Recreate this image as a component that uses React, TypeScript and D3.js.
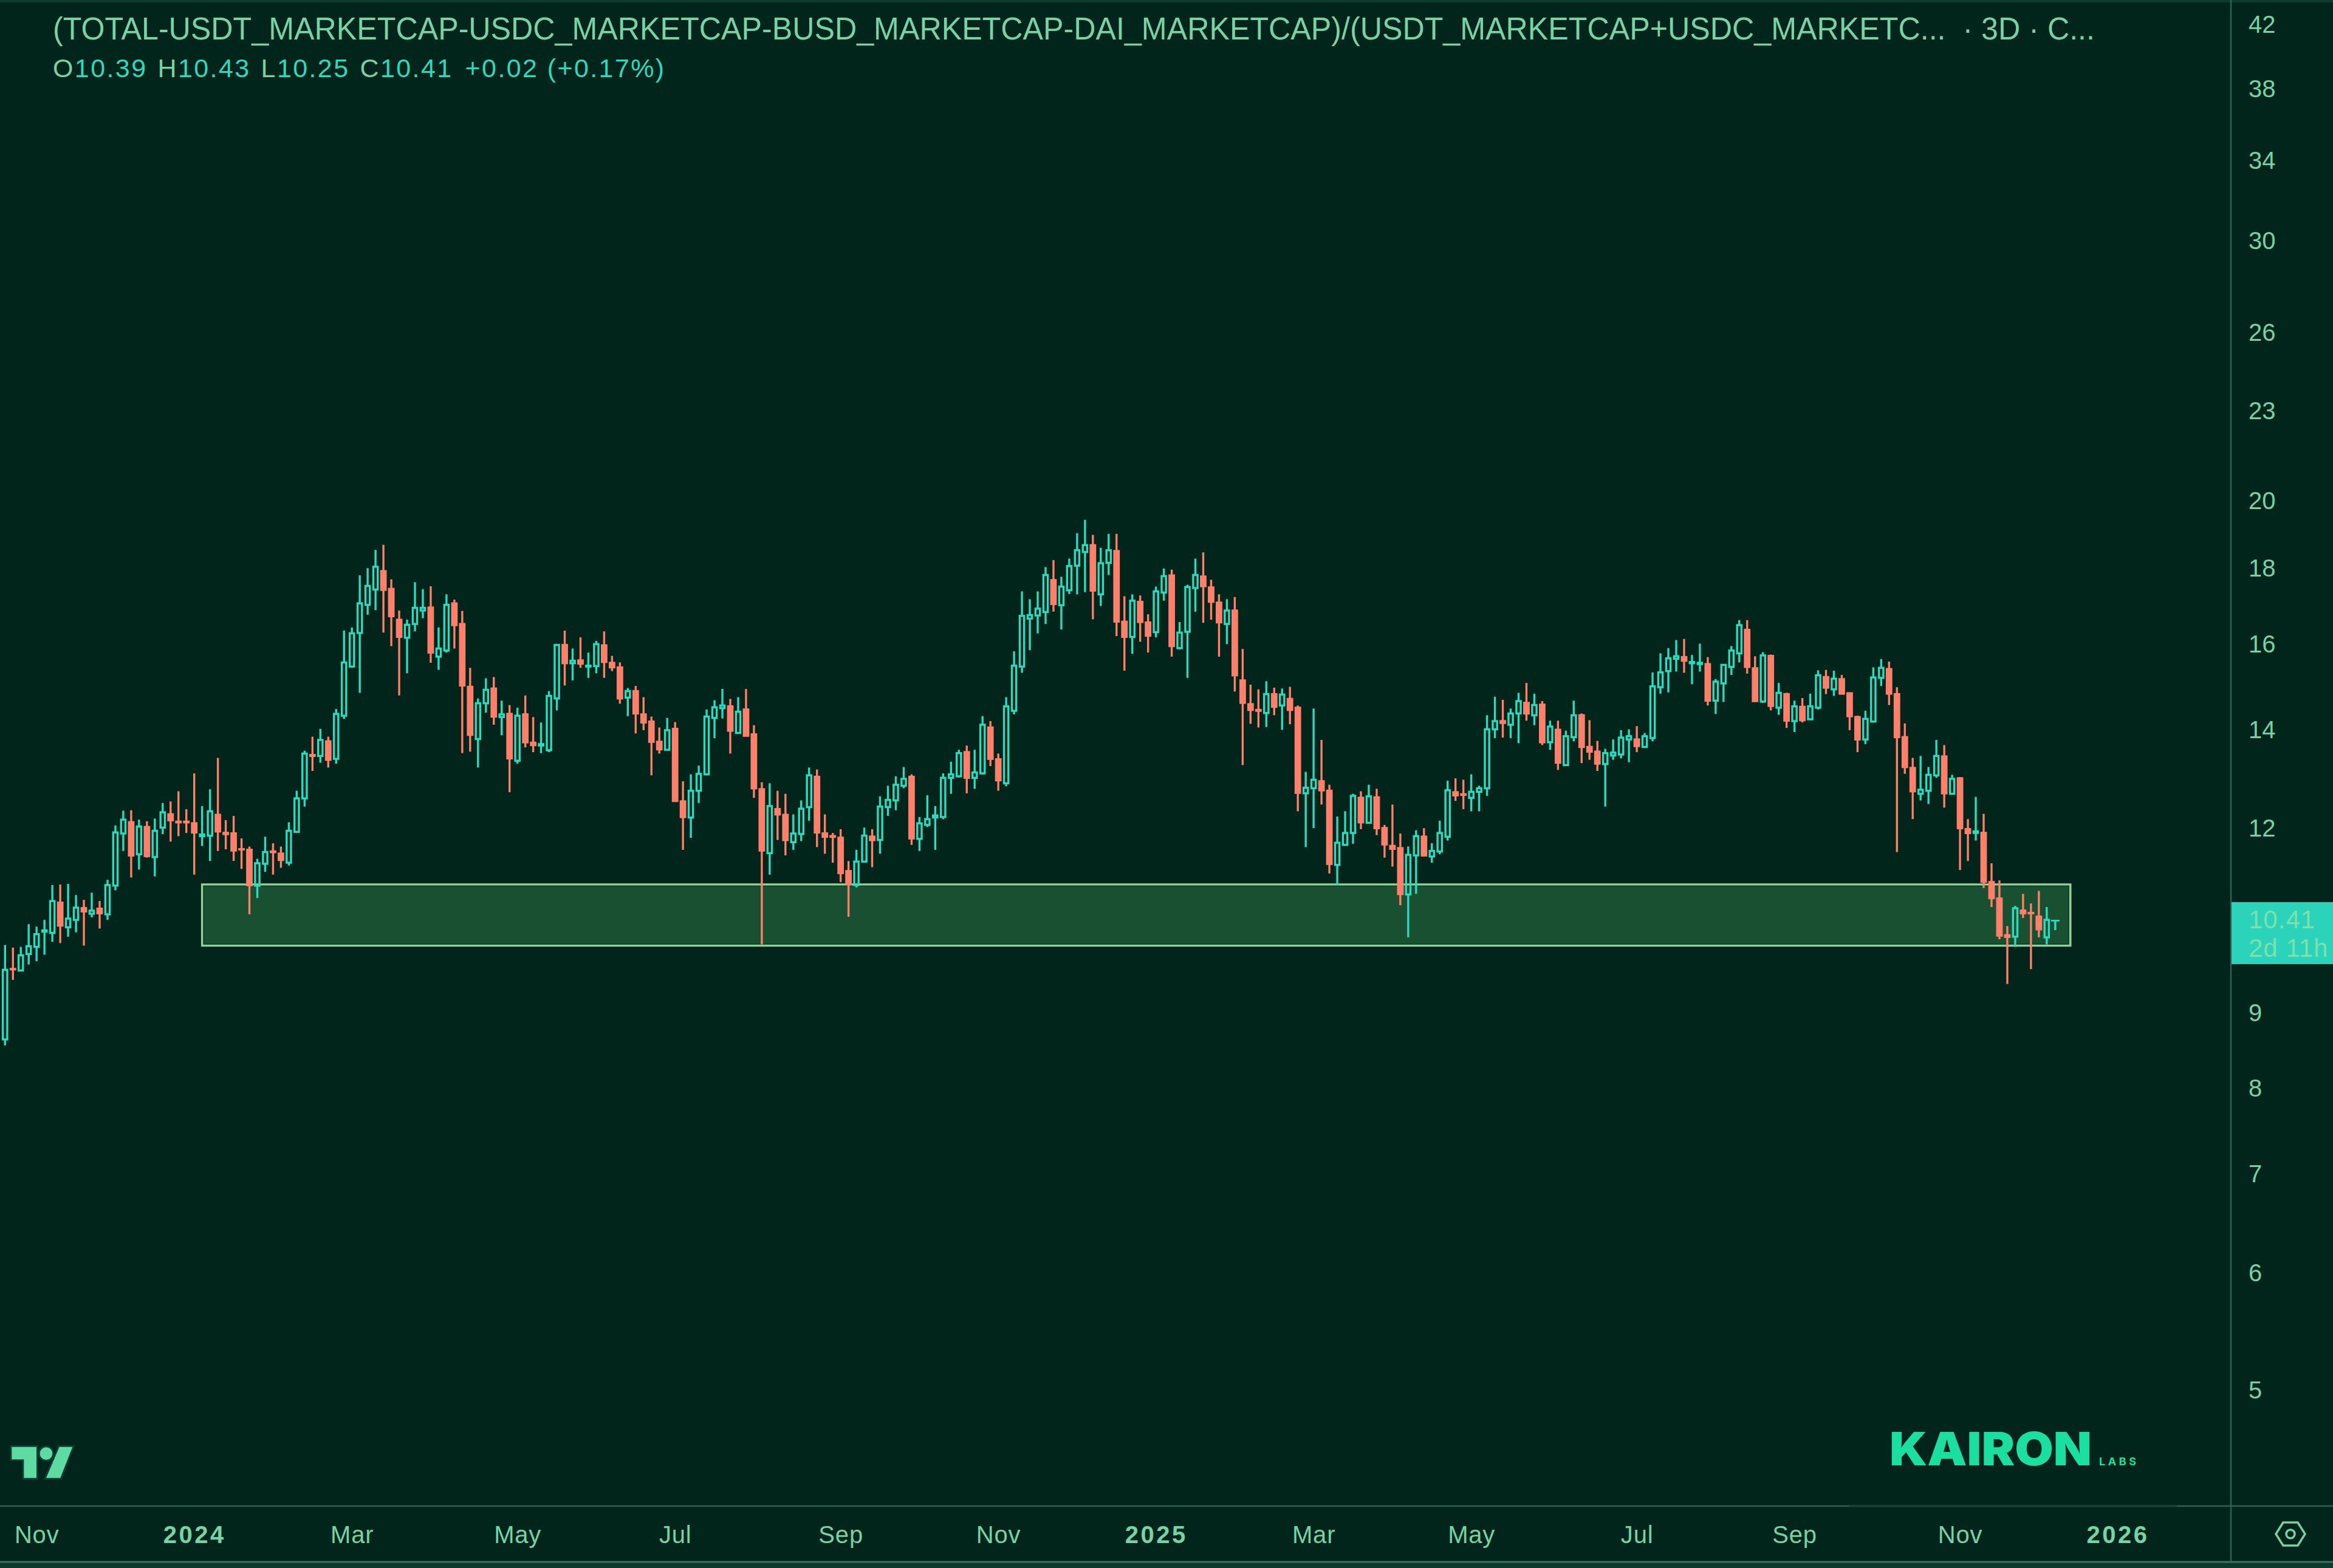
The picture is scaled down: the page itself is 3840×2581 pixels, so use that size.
import { useRef, useEffect } from 'react'
import * as d3 from 'd3'

const WIDTH = 3840
const HEIGHT = 2581
const AXIS_X = 3672
const AXIS_Y = 2479
const FOOTER_Y = 2571

const BG = '#01241b'
const BAND = '#0e3a2e'
const LINE = '#2f6152'
const TEXT = '#75d3a7'
const UP = '#2bdabf'
const DOWN = '#ff7f6b'
const FONT = '"Liberation Sans", Arial, sans-serif'

const TITLE = '(TOTAL-USDT_MARKETCAP-USDC_MARKETCAP-BUSD_MARKETCAP-DAI_MARKETCAP)/(USDT_MARKETCAP+USDC_MARKETC...  · 3D · C...'
const LEGEND = [['O', '10.39'], ['H', '10.43'], ['L', '10.25'], ['C', '10.41']]
const LEGEND_CHANGE = '+0.02 (+0.17%)'

const PRICE_TICKS = [42, 38, 34, 30, 26, 23, 20, 18, 16, 14, 12, 9, 8, 7, 6, 5]
const TIME_TICKS = ['2023-11-01', '2024-01-01', '2024-03-01', '2024-05-01', '2024-07-01', '2024-09-01', '2024-11-01', '2025-01-01', '2025-03-01', '2025-05-01', '2025-07-01', '2025-09-01', '2025-11-01', '2026-01-01']
const TIME_LABELS = ['Nov', '2024', 'Mar', 'May', 'Jul', 'Sep', 'Nov', '2025', 'Mar', 'May', 'Jul', 'Sep', 'Nov', '2026']

const FIRST_BAR = '2023-10-21'
const LAST_BAR = '2025-12-06'
const ZONE = [10, 11]
const ZONE_DATES = ['2024-01-04', '2025-12-15']

const opens = [
  8.64, 9.65, 9.62, 9.87, 9.98, 10.22, 10.2, 10.7, 10.29, 10.41,
  10.61, 10.51, 10.6, 10.5, 10.98, 11.91, 12.13, 11.53, 12.04, 11.48,
  12.02, 12.28, 12.14, 12.14, 12.11, 11.86, 11.87, 12.27, 11.93, 11.92,
  11.63, 11.62, 10.98, 11.36, 11.59, 11.55, 11.38, 11.94, 12.58, 13.47,
  13.44, 13.76, 13.38, 14.31, 15.45, 16.28, 17.01, 17.42, 17.94, 17.45,
  16.63, 16.16, 16.51, 16.86, 16.95, 15.69, 15.84, 17.06, 16.52, 14.98,
  13.8, 14.59, 14.94, 14.28, 14.36, 13.34, 14.35, 13.73, 13.66, 13.56,
  14.7, 15.99, 15.53, 15.61, 15.45, 15.46, 15.98, 15.55, 15.44, 14.72,
  14.88, 14.35, 14.19, 13.75, 13.57, 14.03, 12.53, 12.21, 12.73, 13.06,
  14.26, 14.48, 14.53, 13.93, 14.46, 13.91, 12.77, 11.55, 12.38, 12.27,
  11.75, 11.9, 12.41, 13.02, 11.92, 11.87, 11.84, 11.24, 10.99, 11.4,
  11.86, 11.79, 12.41, 12.54, 12.83, 13.02, 11.81, 12.07, 12.21, 12.22,
  12.99, 13.02, 13.53, 12.99, 13.08, 14.06, 13.38, 12.88, 14.42, 15.45,
  16.65, 16.73, 16.82, 17.69, 17.0, 17.4, 18.08, 18.47, 18.68, 17.29,
  18.16, 18.51, 16.58, 16.18, 17.1, 16.56, 16.3, 17.34, 17.82, 15.9,
  16.31, 17.46, 17.79, 17.49, 17.08, 16.51, 16.87, 15.13, 14.58, 14.45,
  14.37, 14.81, 14.54, 14.7, 14.5, 12.68, 12.78, 12.93, 12.74, 11.34,
  11.7, 11.92, 12.6, 12.11, 12.61, 12.02, 11.69, 11.65, 10.83, 11.51,
  11.86, 11.49, 11.58, 11.85, 12.71, 12.67, 12.59, 12.71, 12.78, 14.01,
  14.2, 14.11, 14.36, 14.61, 14.32, 14.57, 13.73, 14.01, 13.25, 13.84,
  14.33, 13.64, 13.54, 13.27, 13.45, 13.47, 13.79, 13.8, 13.63, 13.82,
  14.96, 15.34, 15.64, 15.69, 15.53, 15.51, 15.52, 14.65, 15.05, 15.44,
  15.77, 16.37, 15.42, 14.63, 15.72, 14.49, 14.81, 14.19, 14.52, 14.23,
  14.49, 15.21, 14.91, 15.16, 14.83, 14.29, 13.79, 14.18, 15.18, 15.4,
  14.81, 13.85, 13.2, 12.67, 12.73, 13.04, 13.44, 12.67, 12.99, 12.0,
  11.92, 11.93, 11.05, 10.77, 10.17, 10.14, 10.57, 10.53, 10.47, 10.13,
]

const closes = [
  9.63, 9.63, 9.85, 9.99, 10.18, 10.24, 10.72, 10.31, 10.43, 10.61,
  10.54, 10.56, 10.51, 10.99, 11.93, 12.17, 11.5, 12.04, 11.49, 11.96,
  12.31, 12.15, 12.11, 12.11, 11.92, 11.89, 12.33, 11.94, 11.89, 11.59,
  11.61, 10.98, 11.37, 11.57, 11.56, 11.42, 11.96, 12.58, 13.49, 13.43,
  13.78, 13.35, 14.35, 15.55, 16.27, 17.05, 17.52, 18.05, 17.4, 16.7,
  16.17, 16.49, 16.93, 16.93, 15.78, 15.89, 17.01, 16.47, 14.99, 13.88,
  14.59, 14.9, 14.28, 14.34, 13.38, 14.31, 13.72, 13.66, 13.69, 14.76,
  15.98, 15.52, 15.59, 15.51, 15.47, 16.0, 15.55, 15.42, 14.69, 14.87,
  14.35, 14.15, 13.73, 13.57, 13.99, 12.52, 12.21, 12.73, 13.07, 14.29,
  14.5, 14.54, 13.97, 14.4, 13.86, 12.77, 11.59, 12.43, 12.26, 11.78,
  11.91, 12.38, 13.04, 11.92, 11.84, 11.84, 11.19, 11.0, 11.4, 11.87,
  11.78, 12.42, 12.55, 12.85, 12.97, 11.81, 12.1, 12.18, 12.25, 12.99,
  13.06, 13.5, 12.98, 13.1, 14.11, 13.37, 12.93, 14.52, 15.47, 16.72,
  16.74, 16.91, 17.82, 17.02, 17.5, 18.07, 18.52, 18.67, 17.38, 18.15,
  18.52, 16.56, 16.17, 17.12, 16.55, 16.2, 17.37, 17.79, 15.94, 16.29,
  17.49, 17.82, 17.5, 17.08, 16.54, 16.86, 15.23, 14.59, 14.43, 14.41,
  14.8, 14.5, 14.79, 14.43, 12.68, 12.79, 12.95, 12.73, 11.35, 11.74,
  11.92, 12.63, 12.11, 12.62, 12.0, 11.7, 11.62, 10.83, 11.52, 11.86,
  11.5, 11.59, 11.92, 12.74, 12.63, 12.64, 12.71, 12.78, 14.01, 14.19,
  14.14, 14.36, 14.64, 14.35, 14.55, 13.72, 14.07, 13.29, 13.86, 14.32,
  13.62, 13.52, 13.27, 13.5, 13.51, 13.83, 13.86, 13.64, 13.86, 14.98,
  15.31, 15.65, 15.7, 15.58, 15.56, 15.54, 14.64, 15.09, 15.49, 15.84,
  16.48, 15.43, 14.63, 15.72, 14.52, 14.83, 14.19, 14.52, 14.2, 14.52,
  15.24, 14.94, 15.16, 14.8, 14.29, 13.78, 14.24, 15.19, 15.42, 14.8,
  13.83, 13.2, 12.71, 12.75, 13.05, 13.44, 12.67, 12.97, 12.0, 11.91,
  11.95, 11.04, 10.76, 10.15, 10.13, 10.6, 10.51, 10.51, 10.25, 10.41,
]

const highs = [
  10.01, 9.97, 9.98, 10.34, 10.3, 10.41, 10.99, 11.0, 11.01, 10.82,
  10.74, 10.86, 10.72, 11.08, 12.06, 12.34, 12.35, 12.17, 12.14, 12.19,
  12.49, 12.52, 12.72, 12.37, 13.08, 12.43, 12.76, 13.4, 12.16, 12.24,
  11.82, 11.67, 11.45, 11.85, 11.73, 11.67, 12.12, 12.73, 13.55, 13.85,
  14.02, 13.85, 14.46, 16.34, 16.42, 17.81, 18.01, 18.53, 18.68, 17.7,
  16.86, 16.62, 17.62, 17.43, 17.51, 16.42, 17.29, 17.15, 16.85, 15.42,
  14.7, 15.17, 15.2, 14.65, 14.55, 14.49, 14.77, 14.28, 14.16, 14.87,
  16.0, 16.34, 15.89, 16.17, 15.79, 16.08, 16.32, 15.71, 15.55, 14.94,
  14.99, 14.73, 14.29, 14.05, 14.26, 14.17, 12.92, 13.06, 13.24, 14.45,
  14.66, 14.92, 14.69, 14.73, 14.92, 14.1, 12.9, 12.88, 12.73, 12.67,
  12.27, 12.54, 13.2, 13.16, 12.27, 11.92, 11.99, 11.41, 11.61, 12.02,
  11.99, 12.62, 12.83, 13.02, 13.21, 13.06, 12.22, 12.64, 12.43, 13.08,
  13.32, 13.57, 13.66, 13.57, 14.3, 14.19, 13.49, 14.73, 15.82, 17.37,
  17.16, 17.37, 18.04, 18.24, 17.77, 18.28, 19.02, 19.42, 18.97, 18.59,
  19.0, 19.0, 17.24, 17.29, 17.26, 16.76, 17.5, 18.0, 17.97, 16.56,
  17.55, 18.28, 18.46, 17.69, 17.29, 17.16, 17.22, 15.88, 15.02, 14.91,
  15.1, 14.95, 14.93, 14.97, 14.54, 13.11, 14.47, 13.78, 12.85, 12.23,
  12.33, 12.67, 12.72, 12.85, 12.77, 12.07, 12.46, 11.91, 11.67, 11.97,
  12.01, 11.73, 12.15, 12.93, 12.98, 12.95, 13.06, 12.83, 14.32, 14.74,
  14.67, 14.47, 14.83, 15.06, 14.81, 14.64, 14.2, 14.2, 13.98, 14.65,
  14.36, 14.21, 13.76, 13.59, 13.79, 13.99, 14.01, 14.08, 13.93, 15.31,
  15.77, 15.9, 16.1, 16.13, 15.73, 16.01, 15.68, 15.15, 15.51, 15.95,
  16.61, 16.61, 15.7, 15.8, 15.74, 15.06, 14.83, 14.65, 14.71, 14.81,
  15.36, 15.37, 15.35, 15.25, 14.83, 14.31, 14.42, 15.43, 15.63, 15.57,
  14.96, 14.14, 13.4, 13.44, 13.21, 13.78, 13.67, 13.05, 13.0, 12.18,
  12.61, 12.28, 11.37, 11.07, 10.31, 10.64, 10.84, 10.68, 10.89, 10.62,
]

const lows = [
  8.56, 9.48, 9.61, 9.71, 9.76, 9.86, 10.06, 10.04, 10.14, 10.21,
  10.0, 10.45, 10.27, 10.41, 10.9, 11.59, 11.12, 11.26, 11.47, 11.14,
  11.9, 11.76, 11.86, 11.92, 11.17, 11.68, 11.41, 11.59, 11.62, 11.41,
  11.27, 10.5, 10.77, 11.22, 11.17, 11.29, 11.33, 11.93, 12.42, 13.13,
  13.3, 13.2, 13.28, 14.24, 15.42, 14.83, 16.75, 16.87, 16.29, 15.95,
  14.77, 15.29, 16.32, 16.66, 15.54, 15.37, 15.79, 15.89, 13.5, 13.53,
  13.2, 14.38, 14.11, 13.88, 12.7, 13.28, 13.62, 13.52, 13.5, 13.52,
  14.43, 15.0, 15.12, 15.42, 15.18, 15.29, 15.18, 15.34, 14.58, 14.3,
  13.92, 13.99, 13.04, 13.49, 13.56, 12.51, 11.61, 11.83, 12.49, 13.04,
  13.82, 14.25, 13.49, 13.91, 13.85, 12.59, 10.02, 11.17, 11.79, 11.51,
  11.61, 11.77, 12.15, 11.66, 11.54, 11.38, 11.04, 10.46, 10.95, 11.39,
  11.3, 11.54, 12.24, 12.35, 12.78, 11.7, 11.59, 12.03, 11.61, 12.18,
  12.67, 13.0, 12.68, 12.77, 13.06, 13.23, 12.73, 12.82, 14.34, 15.3,
  15.85, 16.27, 16.51, 16.83, 16.37, 17.3, 17.29, 17.35, 16.63, 16.98,
  17.82, 16.2, 15.35, 15.76, 16.06, 15.79, 16.17, 17.12, 15.69, 15.87,
  15.18, 16.83, 16.54, 16.62, 15.69, 16.0, 14.86, 13.25, 14.13, 14.05,
  14.06, 14.32, 14.0, 14.12, 12.33, 11.66, 12.01, 12.46, 11.19, 10.99,
  11.69, 11.72, 11.99, 12.1, 11.88, 11.47, 11.31, 10.65, 10.13, 10.84,
  11.49, 11.38, 11.53, 11.78, 12.53, 12.37, 12.33, 12.33, 12.63, 13.82,
  13.83, 13.82, 13.71, 14.2, 14.1, 13.67, 13.57, 13.15, 13.24, 13.75,
  13.29, 13.36, 13.13, 12.42, 13.36, 13.39, 13.31, 13.52, 13.61, 13.75,
  14.81, 14.84, 15.33, 15.3, 15.03, 15.33, 14.54, 14.35, 14.62, 15.25,
  15.55, 15.28, 14.62, 14.6, 14.43, 14.33, 14.04, 13.95, 14.16, 14.22,
  14.45, 14.8, 14.76, 14.79, 13.99, 13.52, 13.69, 14.16, 14.99, 14.55,
  11.57, 13.07, 12.18, 12.54, 12.47, 12.99, 12.4, 12.66, 11.25, 11.41,
  11.78, 10.94, 10.62, 10.1, 9.42, 9.98, 10.44, 9.64, 10.13, 10.02,
]

export default function App() {
  const svgRef = useRef<SVGSVGElement>(null)

  useEffect(() => {
    if (!svgRef.current) return
    const svg = d3.select(svgRef.current)
    svg.selectAll('*').remove()

    const xScale = d3
      .scaleUtc()
      .domain([new Date(FIRST_BAR), new Date(LAST_BAR)])
      .range([8.3, 3368.8])
    const yScale = d3.scaleLog().domain([5, 42]).range([2288.5, 41.1])
    const barDate = (i: number) => d3.utcDay.offset(new Date(FIRST_BAR), i * 3)

    svg.append('rect').attr('width', WIDTH).attr('height', HEIGHT).attr('fill', BG)
    svg.append('rect').attr('width', WIDTH).attr('height', 4).attr('fill', BAND)
    svg.append('rect').attr('y', FOOTER_Y).attr('width', WIDTH).attr('height', HEIGHT - FOOTER_Y).attr('fill', BAND)

    // Support zone
    const zoneX = ZONE_DATES.map((d) => xScale(new Date(d)))
    svg
      .append('rect')
      .attr('x', zoneX[0])
      .attr('y', yScale(ZONE[1]))
      .attr('width', zoneX[1] - zoneX[0])
      .attr('height', yScale(ZONE[0]) - yScale(ZONE[1]))
      .attr('fill', '#195032')
      .attr('stroke', '#8fd09c')
      .attr('stroke-width', 3.5)
    svg
      .append('rect')
      .attr('x', zoneX[0] + 2.8)
      .attr('y', yScale(ZONE[1]) + 2.8)
      .attr('width', zoneX[1] - zoneX[0] - 5.6)
      .attr('height', yScale(ZONE[0]) - yScale(ZONE[1]) - 5.6)
      .attr('fill', 'none')
      .attr('stroke', '#124628')
      .attr('stroke-width', 2)

    // Candles
    const candles = svg
      .append('g')
      .selectAll('g')
      .data(opens.map((_, i) => i))
      .join('g')
      .attr('transform', (i) => `translate(${xScale(barDate(i))},0)`)
      .attr('stroke', (i) => (closes[i] >= opens[i] ? UP : DOWN))
      .attr('fill', 'none')

    candles
      .append('line')
      .attr('y1', (i) => yScale(highs[i]))
      .attr('y2', (i) => yScale(Math.max(opens[i], closes[i])))
      .attr('stroke-width', 3.4)
    candles
      .append('line')
      .attr('y1', (i) => yScale(Math.min(opens[i], closes[i])))
      .attr('y2', (i) => yScale(lows[i]))
      .attr('stroke-width', 3.4)

    candles
      .filter((i) => closes[i] >= opens[i])
      .append('rect')
      .attr('x', -3.6)
      .attr('width', 7.2)
      .attr('y', (i) => yScale(closes[i]))
      .attr('height', (i) => Math.max(yScale(opens[i]) - yScale(closes[i]), 1))
      .attr('stroke-width', 3.4)

    candles
      .filter((i) => closes[i] < opens[i])
      .append('rect')
      .attr('x', -5.4)
      .attr('width', 10.8)
      .attr('y', (i) => yScale(opens[i]) - 1)
      .attr('height', (i) => Math.max(yScale(closes[i]) - yScale(opens[i]) + 2, 3.5))
      .attr('fill', DOWN)
      .attr('stroke', 'none')

    svg
      .append('text')
      .attr('x', xScale(barDate(opens.length - 1)) + 14)
      .attr('y', 1531)
      .attr('text-anchor', 'middle')
      .attr('font-family', FONT)
      .attr('font-size', 24)
      .attr('font-weight', 700)
      .attr('fill', UP)
      .text('T')

    // Price axis
    const yAxis = svg
      .append('g')
      .attr('transform', `translate(${AXIS_X},0)`)
      .call(d3.axisRight(yScale).tickValues(PRICE_TICKS).tickFormat(d3.format('d')).tickSize(0).tickPadding(29))
    yAxis.select('.domain').remove()
    yAxis.selectAll('text').attr('font-family', FONT).attr('font-size', 40).attr('fill', TEXT)

    // Time axis, month ticks land on the first bar of the month
    const firstTime = new Date(FIRST_BAR).getTime()
    const timeDates = TIME_TICKS.map((d) => {
      const days = (new Date(d).getTime() - firstTime) / 86400000
      return barDate(Math.ceil(days / 3))
    })
    const xAxis = svg
      .append('g')
      .attr('transform', `translate(0,${AXIS_Y})`)
      .call(
        d3
          .axisBottom(xScale)
          .tickValues(timeDates)
          .tickFormat((_, i) => TIME_LABELS[i])
          .tickSize(0)
          .tickPadding(33),
      )
    xAxis.select('.domain').remove()
    xAxis
      .selectAll<SVGTextElement, Date>('text')
      .attr('font-family', FONT)
      .attr('font-size', 40)
      .attr('fill', TEXT)
      .attr('font-weight', (_, i) => (TIME_LABELS[i].length === 4 ? 700 : 400))
      .attr('letter-spacing', (_, i) => (TIME_LABELS[i].length === 4 ? 3.5 : 0.8))

    // Frame lines
    const frame = svg.append('g').attr('stroke', LINE).attr('stroke-width', 2.5)
    frame.append('line').attr('x1', AXIS_X).attr('x2', AXIS_X).attr('y1', 0).attr('y2', FOOTER_Y)
    frame.append('line').attr('x1', 0).attr('x2', WIDTH).attr('y1', AXIS_Y).attr('y2', AXIS_Y)
    frame.append('line').attr('x1', 3043).attr('x2', 3583).attr('y1', AXIS_Y).attr('y2', AXIS_Y).attr('stroke', '#1c4338')
    frame.append('line').attr('x1', 0).attr('x2', WIDTH).attr('y1', FOOTER_Y).attr('y2', FOOTER_Y).attr('stroke', '#3f7261').attr('stroke-width', 3)

    // Price tag
    svg.append('rect').attr('x', AXIS_X + 1).attr('y', 1485).attr('width', WIDTH - AXIS_X).attr('height', 102).attr('fill', '#2ad3ba')
    const tag = svg.append('g').attr('font-family', FONT).attr('font-size', 42).attr('letter-spacing', 1).attr('fill', '#7fe0ab')
    tag.append('text').attr('x', 3701).attr('y', 1528).text('10.41')
    tag.append('text').attr('x', 3701).attr('y', 1575).text('2d 11h')

    // Header
    svg
      .append('text')
      .attr('x', 87)
      .attr('y', 65)
      .attr('font-family', FONT)
      .attr('font-size', 52)
      .attr('fill', TEXT)
      .attr('textLength', 3361)
      .attr('lengthAdjust', 'spacingAndGlyphs')
      .style('white-space', 'pre')
      .text(TITLE)

    const legend = svg
      .append('text')
      .attr('x', 87)
      .attr('y', 127)
      .attr('font-family', FONT)
      .attr('font-size', 43)
      .attr('letter-spacing', 2.4)
    LEGEND.forEach(([key, value], i) => {
      legend.append('tspan').attr('fill', TEXT).attr('dx', i ? 17 : 0).text(key)
      legend.append('tspan').attr('fill', UP).text(value)
    })
    legend.append('tspan').attr('fill', UP).attr('dx', 20).text(LEGEND_CHANGE)

    // TradingView mark
    const tv = svg
      .append('g')
      .attr('transform', 'translate(0,2340) scale(0.3333)')
      .attr('fill', '#5ddba3')
      .attr('stroke', '#0f3d30')
      .attr('stroke-width', 18)
      .attr('paint-order', 'stroke')
    tv.append('path').attr('d', 'M58 125H180V278H118V187H58Z')
    tv.append('circle').attr('cx', 228).attr('cy', 158).attr('r', 31)
    tv.append('path').attr('d', 'M293 125H358L298 278H228Z')

    // Kairon mark
    svg
      .append('text')
      .attr('x', 3110)
      .attr('y', 2412)
      .attr('font-family', 'Inter, sans-serif')
      .attr('font-size', 76)
      .attr('font-weight', 900)
      .attr('fill', '#1bdfa0')
      .attr('textLength', 333)
      .attr('lengthAdjust', 'spacingAndGlyphs')
      .text('KAIRON')
    svg
      .append('text')
      .attr('x', 3455)
      .attr('y', 2412)
      .attr('font-family', 'Inter, sans-serif')
      .attr('font-size', 18)
      .attr('font-weight', 700)
      .attr('fill', '#1bdfa0')
      .attr('textLength', 61)
      .text('LABS')

    // Settings icon
    const hex = d3.range(6).map((k) => {
      const a = (k * Math.PI) / 3
      return [3770 + 24 * Math.cos(a), 2525 + 22 * Math.sin(a)] as [number, number]
    })
    svg
      .append('path')
      .attr('d', d3.line().curve(d3.curveLinearClosed)(hex))
      .attr('fill', 'none')
      .attr('stroke', TEXT)
      .attr('stroke-width', 3.5)
    svg
      .append('circle')
      .attr('cx', 3770)
      .attr('cy', 2525)
      .attr('r', 7)
      .attr('fill', 'none')
      .attr('stroke', TEXT)
      .attr('stroke-width', 3.5)
  }, [])

  return (
    <svg
      ref={svgRef}
      width={WIDTH}
      height={HEIGHT}
      style={{ position: 'absolute', left: 0, top: 0, display: 'block' }}
    />
  )
}
